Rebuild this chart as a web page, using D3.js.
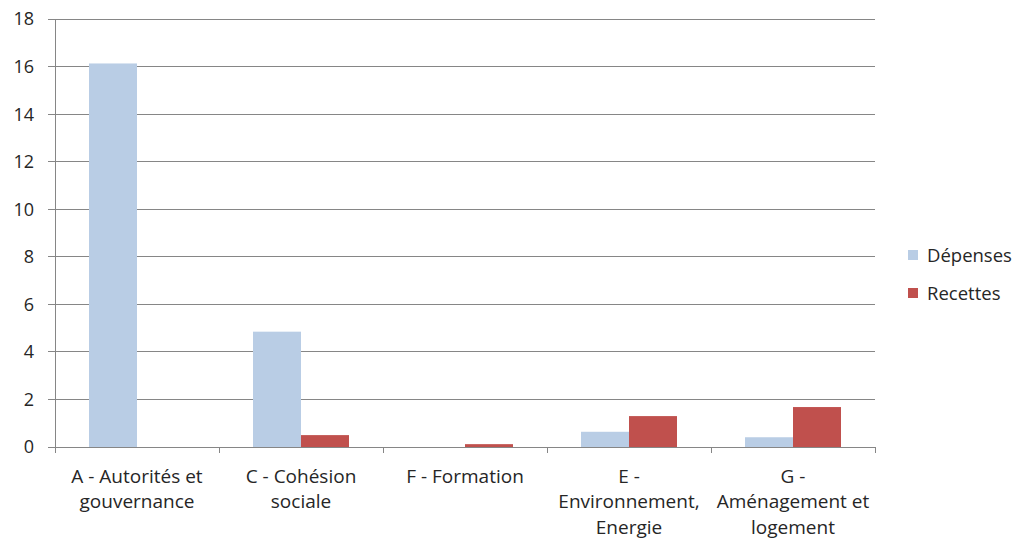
<!DOCTYPE html>
<html><head><meta charset="utf-8">
<script src="https://cdn.jsdelivr.net/npm/d3@7"></script>
<style>body{margin:0;background:#fff}svg{display:block}text{font-family:"Open Sans","Noto Sans",sans-serif;fill:#262626}</style>
</head><body><svg id="c" width="1024" height="547"></svg>
<script>
const categories = ["A - Autorités et gouvernance","C - Cohésion sociale","F - Formation","E - Environnement, Energie","G - Aménagement et logement"];
const labelLines = [["A - Autorités et","gouvernance"],["C - Cohésion","sociale"],["F - Formation"],["E -","Environnement,","Energie"],["G -","Aménagement et","logement"]];
const depenses = [16.13, 4.85, 0, 0.64, 0.41];
const recettes = [0, 0.5, 0.12, 1.3, 1.68];
const seriesNames = ["Dépenses","Recettes"];
const colors = ["#B9CDE5","#C0504D"];
const yTicks = [0,2,4,6,8,10,12,14,16,18];

const svg = d3.select("#c");
const L=55, R=875, T=19, B=447;
const x = d3.scaleBand().domain(categories).range([L,R]);
const y = d3.scaleLinear().domain([0,18]).range([B,T]);
const inner = d3.scaleBand().domain(seriesNames).range([0,96]);

// gridlines
svg.append("g").selectAll("line").data(yTicks).join("line")
  .attr("x1",L-7).attr("x2",R).attr("y1",d=>y(d)).attr("y2",d=>y(d))
  .attr("stroke","#868686").attr("stroke-width",1).attr("shape-rendering","crispEdges");
// y labels
svg.append("g").selectAll("text").data(yTicks).join("text")
  .attr("x",34).attr("y",d=>y(d)).attr("dy","0.36em").attr("text-anchor","end")
  .attr("font-size",18).text(d=>d);
// y axis line
svg.append("line").attr("x1",L).attr("x2",L).attr("y1",T).attr("y2",B)
  .attr("stroke","#868686").attr("shape-rendering","crispEdges");

// bars
const data = [depenses, recettes];
data.forEach((vals,si)=>{
  svg.append("g").selectAll("rect").data(vals).join("rect")
    .attr("x",(d,i)=>x(categories[i])+(x.bandwidth()-96)/2+inner(seriesNames[si]))
    .attr("width",inner.bandwidth())
    .attr("y",d=>y(d)).attr("height",d=>B-y(d))
    .attr("fill",colors[si]);
});

// x axis line and ticks
svg.append("line").attr("x1",L).attr("x2",R).attr("y1",B).attr("y2",B)
  .attr("stroke","#868686").attr("shape-rendering","crispEdges");
const bounds = categories.map(c=>x(c)).concat([R]);
svg.append("g").selectAll("line").data(bounds).join("line")
  .attr("x1",d=>d).attr("x2",d=>d).attr("y1",B).attr("y2",B+6)
  .attr("stroke","#868686").attr("shape-rendering","crispEdges");

// x labels
categories.forEach((c,i)=>{
  const t = svg.append("text").attr("text-anchor","middle").attr("font-size",19)
    .attr("x",x(c)+x.bandwidth()/2).attr("y",482.5);
  labelLines[i].forEach((ln,j)=>t.append("tspan").attr("x",x(c)+x.bandwidth()/2).attr("dy",j?25.8:0).text(ln));
});

// legend
seriesNames.forEach((s,i)=>{
  const gy = 255 + i*38;
  svg.append("rect").attr("x",908).attr("y",gy-5).attr("width",10).attr("height",10).attr("fill",colors[i]);
  svg.append("text").attr("x",927).attr("y",gy).attr("dy","0.36em").attr("font-size",18.5).text(s);
});
</script></body></html>
